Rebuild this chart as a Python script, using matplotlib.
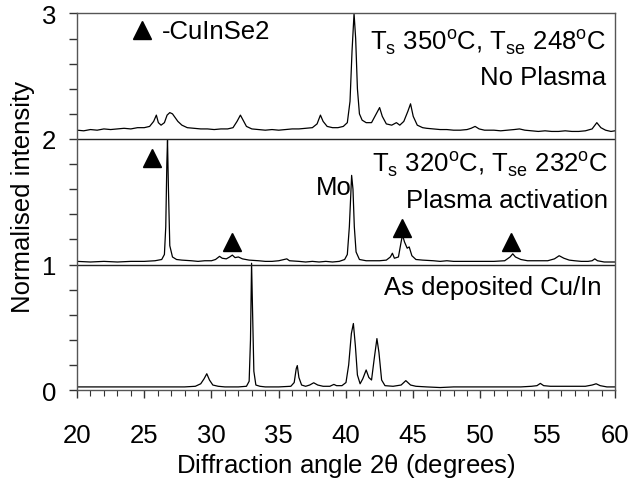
import matplotlib
matplotlib.use("Agg")
import matplotlib.pyplot as plt
from matplotlib.ticker import MultipleLocator

plt.rcParams['font.family'] = ['Liberation Sans', 'DejaVu Sans']
plt.rcParams['mathtext.fontset'] = 'custom'
plt.rcParams['mathtext.rm'] = 'Liberation Sans'

# No plasma (offset 2)
top_angle = [20.0, 20.5, 21.0, 21.5, 22.0, 22.5, 23.0, 23.5, 24.0, 24.5, 25.0, 25.4, 25.7, 25.9, 26.05,
             26.25, 26.5, 26.7, 26.9, 27.1, 27.3, 27.5, 27.8, 28.2, 28.7, 29.2, 29.7, 30.2, 30.7, 31.2,
             31.6, 31.9, 32.15, 32.35, 32.6, 33.0, 33.5, 34.0, 34.5, 35.0, 35.5, 36.0, 36.5, 37.0, 37.5,
             37.85, 38.1, 38.3, 38.6, 39.0, 39.4, 39.8, 40.1, 40.3, 40.45, 40.6, 40.72, 40.85, 41.0, 41.2,
             41.5, 41.9, 42.2, 42.5, 42.7, 43.0, 43.4, 43.75, 44.0, 44.3, 44.6, 44.8, 45.0, 45.3, 45.7,
             46.0, 46.5, 47.0, 47.5, 48.0, 48.5, 49.0, 49.3, 49.6, 49.9, 50.3, 51.0, 51.5, 52.0, 52.5,
             52.9, 53.3, 53.8, 54.3, 54.8, 55.3, 55.8, 56.3, 56.8, 57.3, 57.8, 58.3, 58.65, 58.95, 59.3,
             59.7, 60.0]
top_int = [2.07, 2.065, 2.075, 2.07, 2.08, 2.075, 2.08, 2.085, 2.08, 2.09, 2.09, 2.10, 2.14, 2.19, 2.13,
           2.11, 2.13, 2.19, 2.21, 2.20, 2.17, 2.14, 2.11, 2.09, 2.085, 2.08, 2.08, 2.075, 2.08, 2.08,
           2.09, 2.14, 2.19, 2.15, 2.10, 2.08, 2.075, 2.07, 2.075, 2.07, 2.075, 2.08, 2.08, 2.085, 2.09,
           2.12, 2.19, 2.14, 2.10, 2.09, 2.09, 2.10, 2.13, 2.30, 2.70, 3.0, 2.80, 2.40, 2.20, 2.15,
           2.13, 2.13, 2.19, 2.25, 2.18, 2.12, 2.11, 2.13, 2.11, 2.14, 2.22, 2.28, 2.18, 2.11, 2.09,
           2.085, 2.08, 2.075, 2.075, 2.07, 2.07, 2.075, 2.085, 2.10, 2.08, 2.07, 2.07, 2.065, 2.07, 2.075,
           2.08, 2.07, 2.065, 2.06, 2.065, 2.06, 2.06, 2.065, 2.06, 2.06, 2.065, 2.08, 2.13, 2.09, 2.07,
           2.06, 2.065]

# Plasma activation (offset 1)
mid_angle = [20.0, 21.0, 22.0, 23.0, 24.0, 25.0, 25.8, 26.3, 26.5, 26.6, 26.68, 26.73, 26.8, 26.9, 27.1,
             27.4, 27.8, 28.5, 29.0, 29.5, 30.0, 30.3, 30.6, 30.8, 31.1, 31.35, 31.55, 31.75, 32.0, 32.3,
             32.8, 33.5, 34.0, 34.5, 35.0, 35.4, 35.6, 35.8, 36.5, 37.0, 37.5, 38.0, 38.5, 39.0, 39.5,
             39.9, 40.1, 40.25, 40.42, 40.52, 40.62, 40.75, 41.0, 41.5, 42.0, 42.5, 43.0, 43.3, 43.45, 43.6,
             43.9, 44.1, 44.2, 44.35, 44.55, 44.7, 44.9, 45.2, 45.7, 46.5, 47.0, 47.5, 48.0, 49.0, 50.0,
             51.0, 51.8, 52.2, 52.4, 52.6, 53.0, 53.5, 54.0, 54.5, 55.0, 55.5, 55.85, 56.2, 56.6, 57.0,
             57.5, 58.0, 58.3, 58.5, 58.7, 59.2, 60.0]
mid_int = [1.025, 1.02, 1.025, 1.02, 1.025, 1.025, 1.03, 1.04, 1.08, 1.3, 1.8, 1.99, 1.6, 1.15, 1.06,
           1.04, 1.035, 1.03, 1.025, 1.03, 1.03, 1.04, 1.065, 1.05, 1.045, 1.06, 1.075, 1.055, 1.06, 1.045,
           1.035, 1.03, 1.025, 1.025, 1.03, 1.04, 1.045, 1.03, 1.025, 1.02, 1.025, 1.02, 1.025, 1.02, 1.025,
           1.04, 1.08, 1.3, 1.71, 1.6, 1.3, 1.1, 1.04, 1.03, 1.03, 1.03, 1.035, 1.06, 1.09, 1.05,
           1.06, 1.18, 1.235, 1.18, 1.13, 1.14, 1.07, 1.04, 1.035, 1.03, 1.025, 1.03, 1.025, 1.025, 1.025,
           1.025, 1.03, 1.06, 1.085, 1.06, 1.04, 1.03, 1.03, 1.03, 1.03, 1.045, 1.07, 1.05, 1.035, 1.03,
           1.025, 1.025, 1.03, 1.045, 1.03, 1.02, 1.02]

# As deposited Cu/In (offset 0)
bot_angle = [20.0, 21.0, 22.0, 23.0, 24.0, 25.0, 26.0, 27.0, 28.0, 28.8, 29.2, 29.45, 29.65, 29.85, 30.1,
             30.5, 31.0, 32.0, 32.6, 32.8, 32.9, 32.98, 33.06, 33.15, 33.3, 33.6, 34.0, 35.0, 35.9, 36.15,
             36.3, 36.38, 36.5, 36.7, 37.0, 37.3, 37.6, 37.9, 38.3, 38.8, 39.1, 39.3, 39.7, 40.0, 40.2,
             40.4, 40.55, 40.7, 40.85, 41.05, 41.25, 41.5, 41.7, 41.9, 42.1, 42.3, 42.45, 42.65, 42.9, 43.5,
             44.1, 44.45, 44.8, 45.2, 46.0, 47.0, 48.0, 49.0, 50.0, 51.0, 52.0, 53.0, 53.8, 54.2, 54.45,
             54.7, 55.2, 56.0, 57.0, 57.8, 58.3, 58.6, 58.9, 59.4, 60.0]
bot_int = [0.025, 0.025, 0.025, 0.025, 0.025, 0.025, 0.025, 0.025, 0.025, 0.03, 0.05, 0.09, 0.13, 0.08, 0.04,
           0.03, 0.025, 0.025, 0.03, 0.07, 0.4, 1.01, 0.6, 0.15, 0.04, 0.03, 0.025, 0.025, 0.03, 0.06,
           0.17, 0.195, 0.1, 0.04, 0.03, 0.04, 0.058, 0.04, 0.03, 0.03, 0.045, 0.035, 0.035, 0.06, 0.2,
           0.45, 0.53, 0.35, 0.12, 0.05, 0.09, 0.16, 0.1, 0.08, 0.25, 0.41, 0.3, 0.08, 0.035, 0.03,
           0.04, 0.075, 0.04, 0.03, 0.025, 0.02, 0.025, 0.025, 0.025, 0.025, 0.025, 0.025, 0.03, 0.035, 0.053,
           0.035, 0.03, 0.03, 0.03, 0.03, 0.04, 0.05, 0.035, 0.025, 0.025]

# CuInSe2 markers
tri_angle = [24.83, 25.55, 31.55, 44.2, 52.3]
tri_int = [2.87, 1.85, 1.18, 1.29, 1.18]

fig = plt.figure(figsize=(6.29, 4.81), dpi=100)
ax = fig.add_axes([0.1224, 0.187, 0.8553, 0.783])

for a, i in [(top_angle, top_int), (mid_angle, mid_int), (bot_angle, bot_int)]:
    ax.plot(a, i, color='black', lw=0.9)

ax.axhline(1, color='#222222', lw=1.0)
ax.axhline(2, color='#222222', lw=1.0)
ax.plot(tri_angle, tri_int, '^', color='black', ms=13, ls='none')

fs = 18.5
ax.text(26.32, 2.805, '-CuInSe2', fontsize=fs, va='baseline')
ax.text(59.33, 2.717, r'T$_\mathregular{s}$ 350$^\mathregular{o}$C, T$_\mathregular{se}$ 248$^\mathregular{o}$C',
        fontsize=fs, ha='right', va='baseline')
ax.text(59.33, 2.438, 'No Plasma', fontsize=fs, ha='right', va='baseline')
ax.text(59.48, 1.745, r'T$_\mathregular{s}$ 320$^\mathregular{o}$C, T$_\mathregular{se}$ 232$^\mathregular{o}$C',
        fontsize=fs, ha='right', va='baseline')
ax.text(59.48, 1.458, 'Plasma activation', fontsize=fs, ha='right', va='baseline')
ax.text(37.77, 1.562, 'Mo', fontsize=fs, va='baseline')
ax.text(59.03, 0.765, 'As deposited Cu/In', fontsize=fs, ha='right', va='baseline')

ax.set_xlim(20, 60)
ax.set_ylim(0, 3)
ax.xaxis.set_major_locator(MultipleLocator(5))
ax.xaxis.set_minor_locator(MultipleLocator(1))
ax.yaxis.set_major_locator(MultipleLocator(1))
ax.yaxis.set_minor_locator(MultipleLocator(0.2))
ax.tick_params(axis='x', which='major', length=6, width=1, pad=18, labelsize=fs, color='#333333')
ax.tick_params(axis='x', which='minor', length=4, width=0.8, color='#333333')
ax.tick_params(axis='y', which='both', length=6, width=1, pad=9, labelsize=fs, color='#333333')
for s in ax.spines.values():
    s.set_color('#555555')
    s.set_linewidth(1.0)

ax.set_xlabel(r'Diffraction angle 2$\mathregular{\theta}$ (degrees)', fontsize=fs)
ax.xaxis.set_label_coords(0.5, -0.163)
ax.set_ylabel('Normalised intensity', fontsize=fs)
ax.yaxis.set_label_coords(-0.078, 0.515)

fig.savefig('out.png', dpi=100)
